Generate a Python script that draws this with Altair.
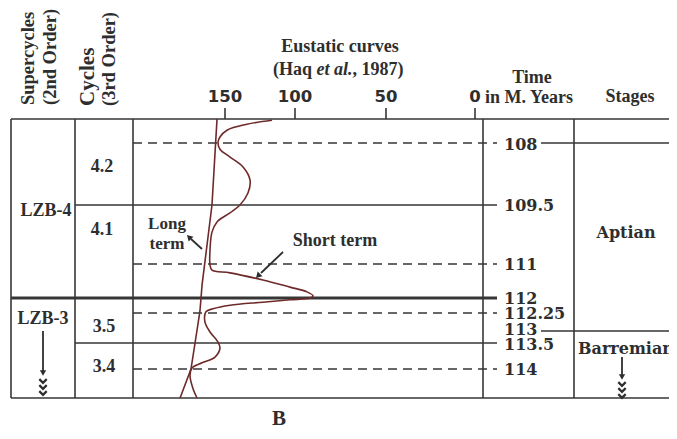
import altair as alt
import pandas as pd

# ---------------- data ----------------
eustatic_ticks = [150, 100, 50, 0]
time_ticks = [108, 109.5, 111, 112, 112.25, 113, 113.5, 114]
time_labels = ["108", "109.5", "111", "112", "112.25", "113", "113.5", "114"]
dashed_times = [108, 111, 112.25, 114]
solid_times = [109.5, 113.5]
thick_times = [112]
stage_bounds = [108, 113]

short_sea = [116.4, 134.3, 148.6, 153.6, 155.0, 153.6, 146.4, 137.1, 132.1, 133.6,
             139.3, 146.4, 155.7, 159.3, 160.7, 160.7, 159.3, 146.4, 122.9, 103.6,
             93.4, 90.1, 91.8, 103.6, 122.9, 146.4, 158.6, 163.6, 164.3, 160.7,
             155.0, 153.6, 157.1, 166.4, 173.6, 175.0, 172.9, 170.0]
short_time = [107.43, 107.53, 107.68, 107.85, 107.98, 108.15, 108.34, 108.58, 108.90, 109.21,
              109.50, 109.70, 109.93, 110.19, 110.64, 111.03, 111.18, 111.26, 111.47, 111.68,
              111.82, 111.94, 112.00, 112.03, 112.07, 112.12, 112.18, 112.23, 112.63, 113.04,
              113.46, 113.60, 113.77, 113.88, 113.98, 114.12, 114.37, 114.55]
long_sea = [155.7, 159.3, 166.4, 167.9, 171.4, 174.3, 182.1]
long_time = [107.4, 109.5, 111.62, 112.22, 113.5, 114.0, 114.55]

header_super = ["Supercycles", "(2nd Order)"]
header_cycles = ["Cycles", "(3rd Order)"]
header_eustatic = ["Eustatic curves", "(Haq ", "et al.", ", 1987)"]
header_time = ["Time", "in M. Years"]
header_stage = "Stages"
supercycle_labels = ["LZB-4", "LZB-3"]
cycle_labels = ["4.2", "4.1", "3.5", "3.4"]
stage_labels = ["Aptian", "Barremian"]
curve_labels = ["Long", "term", "Short term"]
panel_label = "B"

# ---------------- styling / scales ----------------
O = 8  # page margin offset
LINE = "#363636"
TXT = "#2e2e2e"
CURVE = "#6e2a2a"
SERIF = "Liberation Serif"
SLAB = "DejaVu Serif"
SANS = "DejaVu Sans"

xs = alt.Scale(domain=[200, 150, 100, 50, 0],
               range=[155 - O, 225 - O, 295 - O, 386 - O, 475 - O],
               nice=False, zero=False)
ys = alt.Scale(domain=[107.4, 108, 109.5, 111, 112, 112.25, 113, 113.5, 114, 114.55],
               range=[119 - O, 143 - O, 205 - O, 264 - O, 298 - O, 313 - O, 331 - O,
                      343 - O, 369 - O, 398 - O],
               nice=False, zero=False)

one = pd.DataFrame({"k": [0]})
layers = []


def txt(s, x, y, size=18, font=SERIF, style="normal", align="center", angle=0):
    return alt.Chart(one).mark_text(
        text=s, fontSize=size, font=font, fontWeight="bold", fontStyle=style,
        align=align, baseline="middle", angle=angle, color=TXT
    ).encode(x=alt.value(x - O), y=alt.value(y - O))


def hrule(x1, x2, y, w=1.6):
    return alt.Chart(one).mark_rule(color=LINE, strokeWidth=w).encode(
        x=alt.value(x1 - O), x2=alt.value(x2 - O), y=alt.value(y - O))


def vrule(x, y1, y2, w=1.6, color=LINE):
    return alt.Chart(one).mark_rule(color=color, strokeWidth=w).encode(
        x=alt.value(x - O), y=alt.value(y1 - O), y2=alt.value(y2 - O))


def seg(x1, y1, x2, y2, w=1.8):
    return alt.Chart(one).mark_rule(color=TXT, strokeWidth=w).encode(
        x=alt.value(x1 - O), y=alt.value(y1 - O), x2=alt.value(x2 - O), y2=alt.value(y2 - O))


def head(x, y, ang, size=45):
    return alt.Chart(one).mark_point(shape="triangle-up", filled=True, size=size,
                                     angle=ang, color=TXT, opacity=1).encode(
        x=alt.value(x - O), y=alt.value(y - O))


def chevron(x, y):
    return alt.Chart(one).mark_point(shape="M-1,-0.5L0,0.5L1,-0.5", filled=False,
                                     size=55, strokeWidth=2.2, color=TXT, opacity=1).encode(
        x=alt.value(x - O), y=alt.value(y - O))


# frame
layers.append(hrule(11, 677, 119))
layers.append(hrule(11, 677, 398))
for xv in [11, 75, 133, 483, 574]:
    layers.append(vrule(xv, 119, 398))

# horizontal time lines
dash_df = pd.DataFrame({"t": dashed_times})
layers.append(alt.Chart(dash_df).mark_rule(color=LINE, strokeWidth=1.6, strokeDash=[9, 6]).encode(
    y=alt.Y("t:Q", scale=ys, axis=None), x=alt.value(133 - O), x2=alt.value(497 - O)))
solid_df = pd.DataFrame({"t": solid_times})
layers.append(alt.Chart(solid_df).mark_rule(color=LINE, strokeWidth=1.6).encode(
    y=alt.Y("t:Q", scale=ys, axis=None), x=alt.value(75 - O), x2=alt.value(497 - O)))
thick_df = pd.DataFrame({"t": thick_times})
layers.append(alt.Chart(thick_df).mark_rule(color=LINE, strokeWidth=3).encode(
    y=alt.Y("t:Q", scale=ys, axis=None), x=alt.value(11 - O), x2=alt.value(497 - O)))
stage_df = pd.DataFrame({"t": stage_bounds})
layers.append(alt.Chart(stage_df).mark_rule(color=LINE, strokeWidth=1.6).encode(
    y=alt.Y("t:Q", scale=ys, axis=None), x=alt.value(541 - O), x2=alt.value(677 - O)))

# time labels (small per-label nudges like the original lettering)
tl_df = pd.DataFrame({"t": time_ticks, "lab": time_labels})
for labs, dy in [(["108", "113.5"], 2), (["113"], -1),
                 (["109.5", "111", "112", "112.25", "114"], 1)]:
    sub = tl_df[tl_df["lab"].isin(labs)]
    layers.append(alt.Chart(sub).mark_text(font=SLAB, fontWeight="bold", fontSize=16,
                                           align="left", baseline="middle", color=TXT,
                                           dy=dy).encode(
        y=alt.Y("t:Q", scale=ys, axis=None), x=alt.value(504 - O), text="lab:N"))

# eustatic axis ticks
et_df = pd.DataFrame({"v": eustatic_ticks})
layers.append(alt.Chart(et_df).mark_rule(color=LINE, strokeWidth=1.6).encode(
    x=alt.X("v:Q", scale=xs, axis=None), y=alt.value(108 - O), y2=alt.value(119 - O)))
layers.append(alt.Chart(et_df).mark_text(font=SANS, fontWeight="bold", fontSize=16.5,
                                         baseline="middle", color=TXT).encode(
    x=alt.X("v:Q", scale=xs, axis=None), y=alt.value(97 - O), text="v:Q"))

# curves
long_df = pd.DataFrame({"e": long_sea, "t": long_time, "i": range(len(long_sea))})
layers.append(alt.Chart(long_df).mark_line(color=CURVE, strokeWidth=1.6).encode(
    x=alt.X("e:Q", scale=xs, axis=None), y=alt.Y("t:Q", scale=ys, axis=None), order="i:Q"))
short_df = pd.DataFrame({"e": short_sea, "t": short_time, "i": range(len(short_sea))})
layers.append(alt.Chart(short_df).mark_line(color=CURVE, strokeWidth=1.6,
                                            interpolate="catmull-rom").encode(
    x=alt.X("e:Q", scale=xs, axis=None), y=alt.Y("t:Q", scale=ys, axis=None), order="i:Q"))

# headers
layers.append(txt(header_super[0], 28, 105, size=18.5, align="left", angle=270))
layers.append(txt(header_super[1], 50, 105, size=18.5, align="left", angle=270))
layers.append(txt(header_cycles[0], 88, 106, size=21, align="left", angle=270))
layers.append(txt(header_cycles[1], 109, 106, size=18.5, align="left", angle=270))
layers.append(txt(header_eustatic[0], 340, 47))
layers.append(txt(header_eustatic[1], 273, 70, align="left"))
layers.append(txt(header_eustatic[2], 316.5, 70, align="left", style="italic"))
layers.append(txt(header_eustatic[3], 352.5, 70, align="left"))
layers.append(txt(header_time[0], 532, 78))
layers.append(txt(header_time[1], 529, 98))
layers.append(txt(header_stage, 630, 97))

# cycle / supercycle labels
layers.append(txt(supercycle_labels[0], 46, 211))
layers.append(txt(supercycle_labels[1], 43, 319))
layers.append(txt(cycle_labels[0], 102, 167))
layers.append(txt(cycle_labels[1], 102, 230))
layers.append(txt(cycle_labels[2], 104, 327))
layers.append(txt(cycle_labels[3], 104, 367))

# stages
layers.append(txt(stage_labels[0], 626, 233, size=16, font=SLAB))
layers.append(txt(stage_labels[1], 578, 349, size=16, font=SLAB, align="left"))

# curve labels + arrows
layers.append(txt(curve_labels[0], 167, 224, size=17))
layers.append(txt(curve_labels[1], 167, 244, size=17))
layers.append(txt(curve_labels[2], 335, 241, size=18))
layers.append(seg(202, 249, 191, 239))
layers.append(head(189, 237, 315))
layers.append(seg(283, 252, 261, 273))
layers.append(head(258, 276, 225))

# down arrows with chevrons
layers.append(vrule(43, 331, 371, w=1.8, color=TXT))
layers.append(head(43, 373, 180, size=40))
for yv in [381, 387, 393]:
    layers.append(chevron(43, yv))
layers.append(vrule(622, 357, 375, w=1.8, color=TXT))
layers.append(head(622, 377, 180, size=40))
for yv in [384, 390, 396]:
    layers.append(chevron(622, yv))

# panel label
layers.append(txt(panel_label, 279, 419, size=21))

chart = alt.layer(*layers).properties(
    width=661, height=423, padding=0, autosize="none", background="white"
).configure_view(stroke=None)

chart.save("out.html", embed_options={"renderer": "svg", "actions": False})
